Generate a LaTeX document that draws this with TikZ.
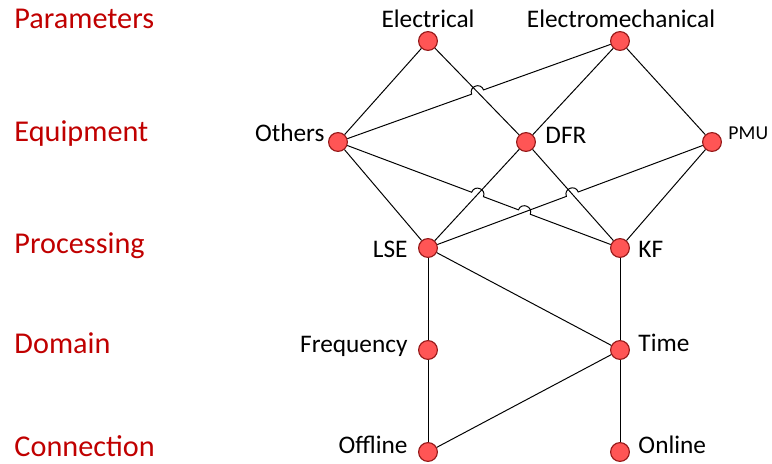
\documentclass[tikz,border=0pt]{standalone}
\usepackage{fontspec}
\setmainfont{Carlito}
\usetikzlibrary{calc}
\definecolor{tierred}{RGB}{192,0,0}
\definecolor{dotfill}{RGB}{255,85,85}
\definecolor{dotdraw}{RGB}{150,25,25}

\begin{document}
\begin{tikzpicture}[x=0.025cm, y=-0.025cm, line width=0.7pt,
  vtx/.style={circle, draw=dotdraw, fill=dotfill, minimum size=0.47cm, inner sep=0pt, line width=0.8pt},
  tier/.style={font=\fontsize{21.5}{25}\selectfont, text=tierred, inner sep=0pt, anchor=base west},
  lbl/.style={font=\fontsize{18}{21}\selectfont, inner sep=0pt},
  hop/.style={bend left=90, looseness=1.7}]
\useasboundingbox (0,0) rectangle (772,463);
% layer names on the left
\node[tier] (t1) at (14,28)  {Parameters};
\node[tier] (t2) at (14,141) {Equipment};
\node[tier] (t3) at (14,253) {Processing};
\node[tier] (t4) at (14,353) {Domain};
\node[tier] (t5) at (14,456) {Connection};
% vertices
\node[vtx] (el)  at (428,41)  {};
\node[vtx] (em)  at (620,41)  {};
\node[vtx] (ot)  at (338,142) {};
\node[vtx] (dfr) at (526,142) {};
\node[vtx] (pmu) at (712,142) {};
\node[vtx] (lse) at (428,248) {};
\node[vtx] (kf)  at (620,248) {};
\node[vtx] (fr)  at (428,350) {};
\node[vtx] (tm)  at (620,350) {};
\node[vtx] (off) at (428,452) {};
\node[vtx] (on)  at (620,452) {};
% vertex labels
\node[lbl, anchor=base] (el-l) at (428,27) {Electrical};
\node[lbl, anchor=base] (em-l) at (621,27) {Electromechanical};
\node[lbl, anchor=base east] (ot-l) at (325,141) {Others};
\node[lbl, anchor=base west] (dfr-l) at (545,143) {DFR};
\node[lbl, anchor=base west, font=\fontsize{14}{17}\selectfont] (pmu-l) at (728,139) {PMU};
\node[lbl, anchor=base east] (lse-l) at (408,257) {LSE};
\node[lbl, anchor=base west] (kf-l) at (638,257) {KF};
\node[lbl, anchor=base east] (fr-l) at (408,352) {Frequency};
\node[lbl, anchor=base west] (tm-l) at (638,351) {Time};
\node[lbl, anchor=base east] (off-l) at (408,453) {Offline};
\node[lbl, anchor=base west] (on-l) at (638,453) {Online};
% straight edges
\foreach \a/\b in {el/ot, el/dfr, em/dfr, em/pmu, ot/lse, dfr/lse, dfr/kf, pmu/kf,
                   lse/fr, lse/tm, kf/tm, fr/off, tm/off, tm/on}
  \draw (\a) -- (\b);
% crossings, the second edge jumps over the first
\coordinate (x1) at (intersection of ot--em and el--dfr);
\coordinate (x2) at (intersection of ot--kf and dfr--lse);
\coordinate (x3) at (intersection of ot--kf and lse--pmu);
\coordinate (x4) at (intersection of lse--pmu and dfr--kf);
\draw (ot) -- ($(x1)!4.5pt!(ot)$) to[hop] ($(x1)!4.5pt!(em)$) -- (em);
\draw (ot) -- ($(x2)!4.5pt!(ot)$) to[hop] ($(x2)!4.5pt!(kf)$)
  -- ($(x3)!4.5pt!(ot)$) to[hop] ($(x3)!4.5pt!(kf)$) -- (kf);
\draw (lse) -- ($(x4)!4.5pt!(lse)$) to[hop] ($(x4)!4.5pt!(pmu)$) -- (pmu);
\end{tikzpicture}
\end{document}
